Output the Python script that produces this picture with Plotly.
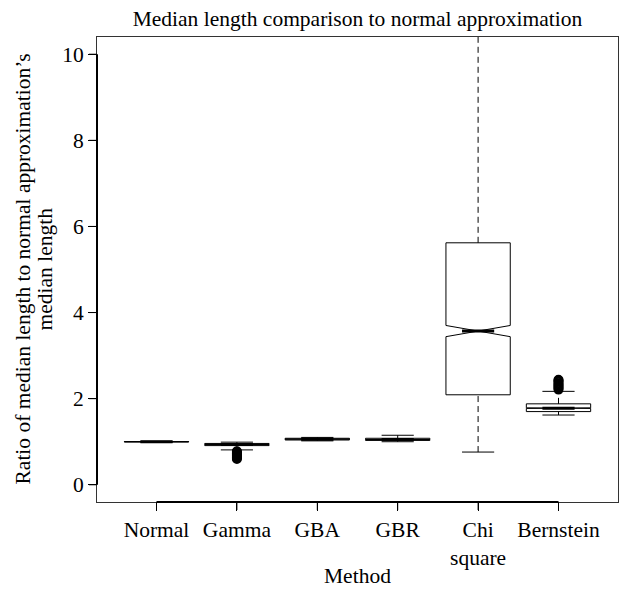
import plotly.graph_objects as go

categories = ["Normal", "Gamma", "GBA", "GBR", "Chi square", "Bernstein"]
tick_labels = ["Normal", "Gamma", "GBA", "GBR", "Chi<br>square", "Bernstein"]
positions = [1, 2, 3, 4, 5, 6]

lower_whisker = [0.99, 0.81, 1.02, 1.00, 0.76, 1.62]
q1 = [0.995, 0.91, 1.04, 1.03, 2.09, 1.70]
median = [1.00, 0.935, 1.06, 1.05, 3.57, 1.78]
q3 = [1.005, 0.96, 1.08, 1.08, 5.62, 1.88]
upper_whisker = [1.01, 0.99, 1.10, 1.15, 11.5, 2.17]
notch_span = [0.001, 0.003, 0.002, 0.002, 0.13, 0.007]

gamma_outliers = [0.60, 0.62, 0.64, 0.66, 0.68, 0.70, 0.72, 0.74, 0.76, 0.78]
bernstein_outliers = [2.21, 2.24, 2.27, 2.30, 2.33, 2.36, 2.39, 2.42, 2.44]

y_ticks = [0, 2, 4, 6, 8, 10]
y_range = [-0.4, 10.4]
x_range = [0.26, 6.74]

title_text = "Median length comparison to normal approximation"
x_title = "Method"
y_title_lines = ["Ratio of median length to normal approximation’s", "median length"]

BOX_W = 0.8
CAP_HALF = 0.2
MED_HALF = 0.2
TICK_LEN = 8
FONT = "Liberation Serif"
FS = 21.5
TXT = "#000"

fig = go.Figure()

# whiskers (dashed) and caps
for p, lo, a, b, hi in zip(positions, lower_whisker, q1, q3, upper_whisker):
    fig.add_trace(go.Scatter(
        x=[p, p, None, p, p], y=[lo, a, None, b, hi], mode="lines",
        line=dict(color="black", width=1, dash="6px,4px"),
        showlegend=False, hoverinfo="skip"))
    fig.add_trace(go.Scatter(
        x=[p - CAP_HALF, p + CAP_HALF, None, p - CAP_HALF, p + CAP_HALF],
        y=[lo, lo, None, hi, hi], mode="lines",
        line=dict(color="black", width=1),
        showlegend=False, hoverinfo="skip"))

# boxes
for p, a, m, b, ns in zip(positions, q1, median, q3, notch_span):
    fig.add_trace(go.Box(
        x=[p], q1=[a], median=[m], q3=[b], lowerfence=[a], upperfence=[b],
        notched=True, notchspan=[ns], notchwidth=0.5,
        width=BOX_W, whiskerwidth=0,
        fillcolor="white", line=dict(color="black", width=1),
        boxpoints=False, showlegend=False, hoverinfo="skip"))

# thick medians
for p, m in zip(positions, median):
    fig.add_trace(go.Scatter(
        x=[p - MED_HALF, p + MED_HALF], y=[m, m], mode="lines",
        line=dict(color="black", width=3),
        showlegend=False, hoverinfo="skip"))

# outliers
for p, vals in ((positions[1], gamma_outliers), (positions[5], bernstein_outliers)):
    fig.add_trace(go.Scatter(
        x=[p] * len(vals), y=vals, mode="markers",
        marker=dict(symbol="circle-open", size=8, color="black",
                    line=dict(color="black", width=2)),
        showlegend=False, hoverinfo="skip"))

# thick axis segments spanning the tick range (R style)
fig.add_shape(type="line", xref="x", yref="paper",
              x0=min(positions), x1=max(positions), y0=0, y1=0,
              line=dict(color="black", width=2))
fig.add_shape(type="line", xref="paper", yref="y",
              x0=0, x1=0, y0=min(y_ticks), y1=max(y_ticks),
              line=dict(color="black", width=2))

# explicit outside tick marks
for p in positions:
    fig.add_shape(type="line", xref="x", yref="paper", ysizemode="pixel", yanchor=0,
                  x0=p, x1=p, y0=0, y1=-TICK_LEN,
                  line=dict(color="black", width=1))
for t in y_ticks:
    fig.add_shape(type="line", xref="paper", yref="y", xsizemode="pixel", xanchor=0,
                  x0=0, x1=-TICK_LEN, y0=t, y1=t,
                  line=dict(color="black", width=1))

# axis titles as annotations
fig.add_annotation(text=x_title, xref="paper", yref="paper",
                   x=0.5, y=0, yshift=-74, xanchor="center", yanchor="middle",
                   showarrow=False, font=dict(family=FONT, size=FS, color=TXT))
for line_text, shift in zip(y_title_lines, [-75, -53]):
    fig.add_annotation(text=line_text, xref="paper", yref="paper",
                       x=0, xshift=shift, y=0.5,
                       xanchor="center", yanchor="middle", textangle=-90,
                       showarrow=False, font=dict(family=FONT, size=FS, color=TXT))

fig.update_layout(
    width=621, height=590,
    margin=dict(l=97, r=3, t=37, b=88, autoexpand=False),
    paper_bgcolor="white", plot_bgcolor="white",
    font=dict(family=FONT, size=FS, color=TXT),
    title=dict(text=title_text,
               x=0.5, xref="paper", xanchor="center",
               y=1 - 18 / 590, yref="container", yanchor="middle",
               font=dict(family=FONT, size=FS, color=TXT)),
    xaxis=dict(range=x_range, tickvals=positions, ticktext=tick_labels,
               showgrid=False, zeroline=False, automargin=False,
               showline=True, mirror=True, linecolor="#333", linewidth=1,
               ticks="outside", ticklen=TICK_LEN, tickwidth=1, tickcolor="black",
               tickfont=dict(family=FONT, size=FS, color=TXT)),
    yaxis=dict(range=y_range, tickvals=y_ticks,
               showgrid=False, zeroline=False, automargin=False,
               showline=True, mirror=True, linecolor="#333", linewidth=1,
               ticks="outside", ticklen=TICK_LEN, tickwidth=1, tickcolor="black",
               ticksuffix="\u00a0",
               tickfont=dict(family=FONT, size=FS, color=TXT)),
)

fig.write_html("out.html", config={"displayModeBar": False},
               post_script="document.body.style.margin='0';document.body.style.padding='0';")
